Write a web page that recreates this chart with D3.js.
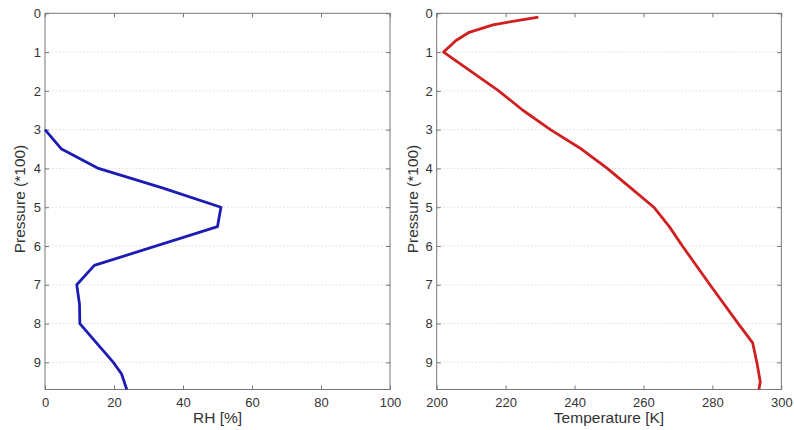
<!DOCTYPE html>
<html><head><meta charset="utf-8">
<script src="https://cdn.jsdelivr.net/npm/d3@7"></script>
<style>
body{margin:0;background:#fff;}
text{font-family:"Liberation Sans",Arial,sans-serif;fill:#333;}
</style></head>
<body><svg id="c" width="794" height="430"></svg>
<script>
// Data
const rhPressure = [3.0, 3.5, 4.0, 4.5, 5.0, 5.5, 6.5, 7.0, 7.5, 8.0, 9.0, 9.3, 9.7];
const rhValues   = [0, 4.8, 15.5, 34, 51, 50, 14.3, 9.2, 10, 10.1, 19.8, 22.2, 23.7];
const tPressure  = [0.1, 0.2, 0.3, 0.5, 0.7, 1.0, 2.0, 2.5, 3.0, 3.5, 4.0, 4.5, 5.0, 5.5, 6.0, 7.0, 8.0, 8.5, 9.0, 9.5, 9.7];
const tValues    = [229.5, 222.5, 216.3, 209.2, 205.6, 202, 218, 225, 233, 242, 249.5, 256.3, 263, 267.5, 271.3, 279.3, 287.5, 291.7, 292.9, 293.9, 293.5];
const yTicks = [0,1,2,3,4,5,6,7,8,9];
const rhTicks = [0,20,40,60,80,100];
const tTicks = [200,220,240,260,280,300];

const svg = d3.select("#c");
const plotTop = 13.3, plotBottom = 389.5;

function panel(x0, x1, xDomain, xTicks, xs, ps, color, xlabel, ylabelX){
  const x = d3.scaleLinear().domain(xDomain).range([x0, x1]);
  const y = d3.scaleLinear().domain([0, 9.7]).range([plotTop, plotBottom]);
  const g = svg.append("g");
  g.selectAll("line.grid").data(yTicks.filter(d=>d>0)).join("line")
    .attr("x1", x0).attr("x2", x1).attr("y1", d=>y(d)).attr("y2", d=>y(d))
    .attr("stroke", "#d4d4d4").attr("stroke-width", 0.8).attr("stroke-dasharray", "1.5,2");
  const tl = 4;
  g.append("g").attr("transform", `translate(0,${plotBottom})`)
    .call(d3.axisBottom(x).tickValues(xTicks).tickSizeInner(-tl).tickSizeOuter(0).tickPadding(8))
    .call(a=>a.select(".domain").remove());
  g.append("g").attr("transform", `translate(0,${plotTop})`)
    .call(d3.axisTop(x).tickValues(xTicks).tickSizeInner(-tl).tickSizeOuter(0).tickFormat(""))
    .call(a=>a.select(".domain").remove());
  g.append("g").attr("transform", `translate(${x0},0)`)
    .call(d3.axisLeft(y).tickValues(yTicks).tickSizeInner(-tl).tickSizeOuter(0).tickPadding(4))
    .call(a=>a.select(".domain").remove());
  g.append("g").attr("transform", `translate(${x1},0)`)
    .call(d3.axisRight(y).tickValues(yTicks).tickSizeInner(-tl).tickSizeOuter(0).tickFormat(""))
    .call(a=>a.select(".domain").remove());
  g.selectAll(".tick line").attr("stroke", "#777");
  g.selectAll(".tick text").attr("font-size", 13).attr("fill", "#333")
    .style("font-family", '"Liberation Sans",Arial,sans-serif');
  g.append("rect").attr("x", x0).attr("y", plotTop).attr("width", x1-x0).attr("height", plotBottom-plotTop)
    .attr("fill", "none").attr("stroke", "#777").attr("stroke-width", 1);
  const line = d3.line().x((d,i)=>x(xs[i])).y((d,i)=>y(ps[i]));
  g.append("path").datum(ps).attr("d", line).attr("fill","none")
    .attr("stroke", color).attr("stroke-width", 2.8).attr("stroke-linejoin","round");
  g.append("text").attr("x", (x0+x1)/2).attr("y", 423).attr("text-anchor","middle")
    .attr("font-size", 15.5).text(xlabel);
  g.append("text").attr("transform", `translate(${ylabelX},199) rotate(-90)`)
    .attr("text-anchor","middle").attr("font-size", 15.5).text("Pressure (*100)");
}
panel(45, 390, [0,100], rhTicks, rhValues, rhPressure, "#1c1cb4", "RH [%]", 25);
panel(436.7, 781.3, [200,300], tTicks, tValues, tPressure, "#d01f1f", "Temperature [K]", 418);
</script></body></html>
